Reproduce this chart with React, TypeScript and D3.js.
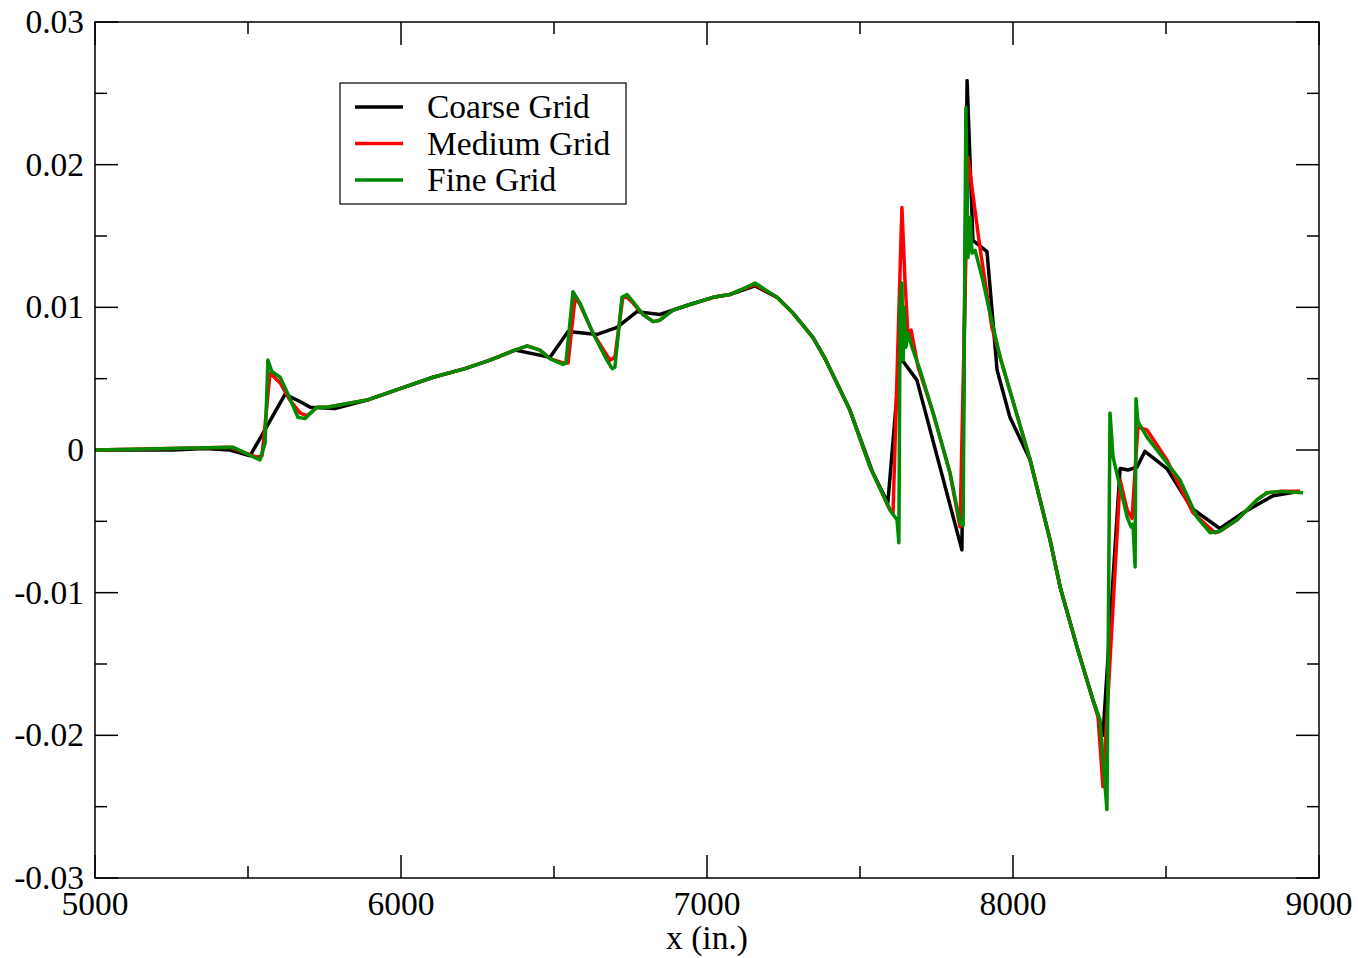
import React from "react";
import * as d3 from "d3";

// x positions (in.) and values for each grid resolution
const coarseGrid: [number, number][] = [
  [5000, 0], [5255, 0], [5359, 0.0001], [5441, 0], [5507, -0.0004], [5621, 0.0039],
  [5670, 0.0034], [5703, 0.003], [5784, 0.0029], [5889, 0.0035], [5997, 0.0043],
  [6105, 0.0051], [6209, 0.0057], [6291, 0.0063], [6373, 0.007], [6487, 0.0065],
  [6546, 0.0083], [6641, 0.0081], [6706, 0.0086], [6771, 0.0097], [6846, 0.0095],
  [6944, 0.0102], [7020, 0.0107], [7075, 0.0109], [7157, 0.0115], [7229, 0.0107],
  [7281, 0.0096], [7346, 0.0079], [7386, 0.0064], [7467, 0.0028], [7542, -0.0016],
  [7591, -0.0037], [7631, 0.0065], [7686, 0.0049], [7833, -0.007], [7850, 0.0259],
  [7869, 0.0147], [7915, 0.0139], [7948, 0.0056], [7990, 0.0023], [8056, -0.0007],
  [8121, -0.0063], [8154, -0.0096], [8209, -0.0138], [8261, -0.0175], [8275, -0.0184],
  [8294, -0.02], [8350, -0.0013], [8376, -0.0014], [8405, -0.0012], [8431, -0.0001],
  [8503, -0.0013], [8585, -0.0041], [8676, -0.0055], [8752, -0.0044], [8850, -0.0032],
  [8938, -0.0029],
];

const mediumGrid: [number, number][] = [
  [5000, 0], [5441, 0.0002], [5529, -0.0005], [5546, -0.0004], [5572, 0.0054],
  [5605, 0.0047], [5637, 0.0035], [5670, 0.0026], [5693, 0.0024], [5725, 0.003],
  [5758, 0.003], [5889, 0.0035], [5997, 0.0043], [6105, 0.0051], [6209, 0.0057],
  [6291, 0.0063], [6373, 0.007], [6412, 0.0073], [6454, 0.007], [6487, 0.0064],
  [6529, 0.0061], [6546, 0.0061], [6569, 0.0107], [6585, 0.0102], [6627, 0.0082],
  [6683, 0.0063], [6699, 0.0065], [6725, 0.0107], [6739, 0.0107], [6758, 0.0103],
  [6791, 0.0095], [6824, 0.009], [6846, 0.0091], [6889, 0.0098], [6944, 0.0102],
  [7020, 0.0107], [7075, 0.0109], [7108, 0.0112], [7157, 0.0116], [7229, 0.0107],
  [7281, 0.0096], [7346, 0.0079], [7386, 0.0064], [7467, 0.0028], [7533, -0.0012],
  [7598, -0.0042], [7608, -0.0044], [7637, 0.017], [7647, 0.0119], [7657, 0.0079],
  [7667, 0.0084], [7690, 0.0058], [7739, 0.0026], [7794, -0.0016], [7827, -0.0054],
  [7853, 0.0205], [7892, 0.0142], [7931, 0.0086], [7958, 0.0065], [8056, -0.0007],
  [8121, -0.0063], [8154, -0.0096], [8209, -0.0138], [8261, -0.0175], [8278, -0.0187],
  [8294, -0.0236], [8350, -0.0021], [8373, -0.0042], [8389, -0.0048], [8408, 0.0016],
  [8438, 0.0014], [8503, -0.0007], [8588, -0.0044], [8660, -0.0058], [8676, -0.0057],
  [8732, -0.0049], [8797, -0.0035], [8830, -0.003], [8873, -0.0029], [8938, -0.0029],
];

const fineGrid: [number, number][] = [
  [5000, 0], [5451, 0.0002], [5539, -0.0007], [5556, 0.0005], [5565, 0.0063],
  [5578, 0.0055], [5605, 0.0051], [5631, 0.0039], [5663, 0.0023], [5686, 0.0022],
  [5725, 0.003], [5758, 0.003], [5889, 0.0035], [5997, 0.0043], [6105, 0.0051],
  [6209, 0.0057], [6291, 0.0063], [6373, 0.007], [6412, 0.0073], [6454, 0.007],
  [6487, 0.0064], [6529, 0.006], [6539, 0.0061], [6562, 0.0111], [6585, 0.0103],
  [6627, 0.0082], [6673, 0.0063], [6690, 0.0057], [6699, 0.0058], [6722, 0.0107],
  [6739, 0.0109], [6758, 0.0104], [6791, 0.0095], [6824, 0.009], [6846, 0.0091],
  [6889, 0.0098], [6944, 0.0102], [7020, 0.0107], [7075, 0.0109], [7108, 0.0112],
  [7157, 0.0117], [7229, 0.0107], [7281, 0.0096], [7346, 0.0079], [7386, 0.0064],
  [7467, 0.0028], [7533, -0.0012], [7598, -0.0042], [7621, -0.0049], [7627, -0.0065],
  [7631, 0.0103], [7637, 0.0117], [7641, 0.0063], [7644, 0.01], [7650, 0.0072],
  [7657, 0.0082], [7670, 0.0072], [7696, 0.0056], [7739, 0.0026], [7794, -0.0016],
  [7827, -0.0051], [7837, -0.0053], [7846, 0.024], [7853, 0.0135], [7860, 0.0163],
  [7866, 0.0138], [7876, 0.014], [7899, 0.0121], [7925, 0.0096], [7958, 0.0065],
  [8056, -0.0007], [8121, -0.0063], [8154, -0.0096], [8209, -0.0138], [8261, -0.0175],
  [8284, -0.0189], [8307, -0.0252], [8317, 0.0026], [8327, -0.0005], [8350, -0.0026],
  [8373, -0.0047], [8386, -0.0054], [8392, -0.0052], [8399, -0.0082], [8402, 0.0036],
  [8408, 0.002], [8438, 0.0009], [8503, -0.0009], [8546, -0.0021], [8601, -0.0047],
  [8644, -0.0058], [8676, -0.0057], [8732, -0.0049], [8797, -0.0035], [8830, -0.003],
  [8873, -0.0029], [8948, -0.003],
];

const seriesNames = ["Coarse Grid", "Medium Grid", "Fine Grid"];
const seriesColors = ["#000000", "#ff0000", "#008b00"];

const xMajorTicks = [5000, 6000, 7000, 8000, 9000];
const xMinorTicks = [5500, 6500, 7500, 8500];
const yMajorTicks = [0.03, 0.02, 0.01, 0, -0.01, -0.02, -0.03];
const yMinorTicks = [0.025, 0.015, 0.005, -0.005, -0.015, -0.025];
const yTickLabels = ["0.03", "0.02", "0.01", "0", "-0.01", "-0.02", "-0.03"];
const xAxisTitle = "x (in.)";

const W = 1358;
const H = 958;
const left = 95;
const right = 1319;
const top = 22;
const bottom = 878;
const FONT = "'Liberation Serif', 'Times New Roman', serif";
const FS = 33.5;

export default function App() {
  const x = d3.scaleLinear().domain([5000, 9000]).range([left, right]);
  const y = d3.scaleLinear().domain([-0.03, 0.03]).range([bottom, top]);
  const line = d3
    .line<[number, number]>()
    .x((d) => x(d[0]))
    .y((d) => y(d[1]));

  const allSeries = [coarseGrid, mediumGrid, fineGrid];
  const major = 23;
  const minor = 12;

  return (
    <svg
      width={W}
      height={H}
      viewBox={`0 0 ${W} ${H}`}
      style={{ position: "absolute", left: 0, top: 0, background: "#fff" }}
    >
      <rect x={0} y={0} width={W} height={H} fill="#fff" />
      <g stroke="#000" strokeWidth={1.5}>
        {xMajorTicks.map((t) => (
          <g key={`xM${t}`}>
            <line x1={x(t)} x2={x(t)} y1={bottom} y2={bottom - major} />
            <line x1={x(t)} x2={x(t)} y1={top} y2={top + major} />
          </g>
        ))}
        {xMinorTicks.map((t) => (
          <g key={`xm${t}`}>
            <line x1={x(t)} x2={x(t)} y1={bottom} y2={bottom - minor} />
            <line x1={x(t)} x2={x(t)} y1={top} y2={top + minor} />
          </g>
        ))}
        {yMajorTicks.map((t) => (
          <g key={`yM${t}`}>
            <line x1={left} x2={left + major} y1={y(t)} y2={y(t)} />
            <line x1={right} x2={right - major} y1={y(t)} y2={y(t)} />
          </g>
        ))}
        {yMinorTicks.map((t) => (
          <g key={`ym${t}`}>
            <line x1={left} x2={left + minor} y1={y(t)} y2={y(t)} />
            <line x1={right} x2={right - minor} y1={y(t)} y2={y(t)} />
          </g>
        ))}
      </g>

      {allSeries.map((s, i) => (
        <path
          key={seriesNames[i]}
          d={line(s) || ""}
          fill="none"
          stroke={seriesColors[i]}
          strokeWidth={3.5}
          strokeLinejoin="round"
        />
      ))}

      <rect
        x={left}
        y={top}
        width={right - left}
        height={bottom - top}
        fill="none"
        stroke="#000"
        strokeWidth={1.5}
      />

      <g fontFamily={FONT} fontSize={FS} fill="#000">
        {yMajorTicks.map((t, i) => (
          <text key={`yl${t}`} x={84} y={y(t) + 11} textAnchor="end">
            {yTickLabels[i]}
          </text>
        ))}
        {xMajorTicks.map((t) => (
          <text key={`xl${t}`} x={x(t)} y={915} textAnchor="middle">
            {t}
          </text>
        ))}
        <text x={(left + right) / 2} y={949} textAnchor="middle">
          {xAxisTitle}
        </text>
      </g>

      <g>
        <rect x={340} y={83} width={286} height={121} fill="#fff" stroke="#000" strokeWidth={1.2} />
        {seriesNames.map((name, i) => (
          <g key={name}>
            <line
              x1={355}
              x2={403}
              y1={107 + i * 36.5}
              y2={107 + i * 36.5}
              stroke={seriesColors[i]}
              strokeWidth={3.5}
            />
            <text
              x={427}
              y={107 + i * 36.5 + 11}
              fontFamily={FONT}
              fontSize={FS}
              fill="#000"
            >
              {name}
            </text>
          </g>
        ))}
      </g>
    </svg>
  );
}
